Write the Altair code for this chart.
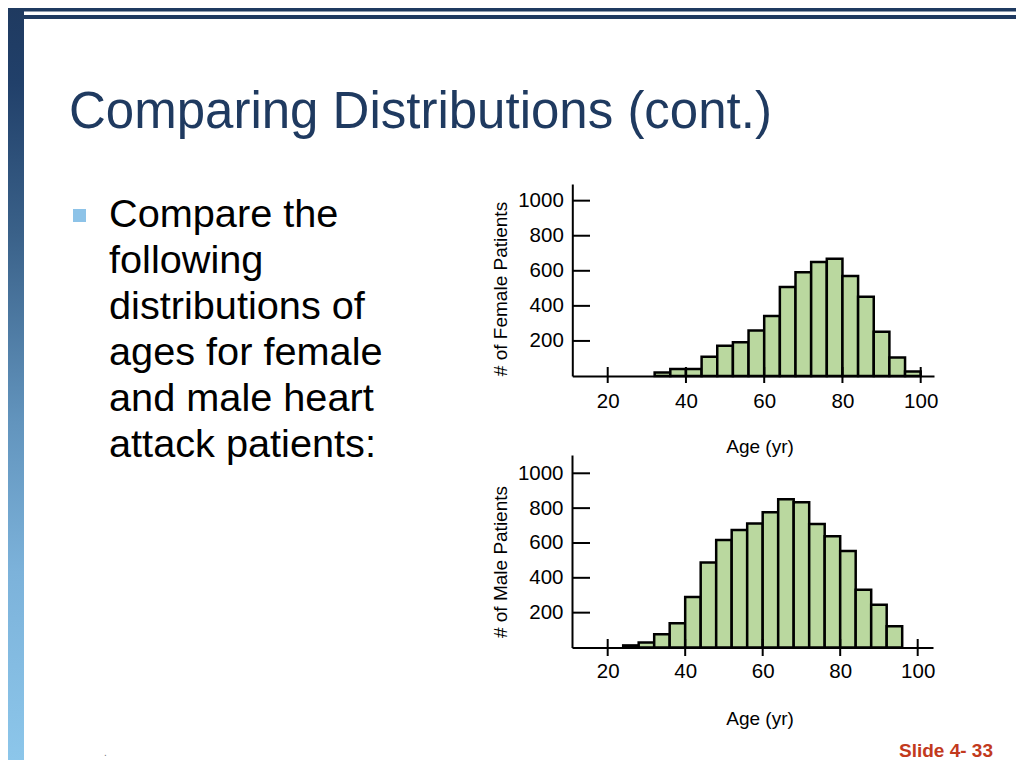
import altair as alt
import pandas as pd

# ---------------- data ----------------
title_text = "Comparing Distributions (cont.)"
bullet_lines = ["Compare the", "following", "distributions of",
                "ages for female", "and male heart", "attack patients:"]
slide_label = "Slide 4- 33"

bin_width = 4
female_bin_start = [32, 36, 40, 44, 48, 52, 56, 60, 64, 68, 72, 76, 80, 84, 88, 92, 96]
female_counts = [20, 40, 40, 110, 173, 192, 260, 342, 507, 591, 650, 669, 570, 452, 253, 105, 25]
male_bin_start = [24, 28, 32, 36, 40, 44, 48, 52, 56, 60, 64, 68, 72, 76, 80, 84, 88, 92]
male_counts = [12, 29, 76, 139, 290, 488, 617, 674, 712, 777, 851, 834, 709, 638, 554, 331, 246, 122]

x_tick_values = [20, 40, 60, 80, 100]
y_tick_values = [200, 400, 600, 800, 1000]
female_y_title = "# of Female Patients"
male_y_title = "# of Male Patients"
x_title = "Age (yr)"

# ---------------- styling ----------------
SANS = "Liberation Sans, Arial, Helvetica, sans-serif"
NARROW = "Liberation Sans Narrow, Arial Narrow, Liberation Sans, Arial, sans-serif"
NAVY = "#1f3a60"
GREEN = "#bad89f"
W, H = 1008, 752
LABEL_SIZE = 20.5
TITLE_SIZE = 19


def one_row():
    return pd.DataFrame({"k": [0]})


# ---------------- slide decorations ----------------
side_bar = alt.Chart(one_row()).mark_rect(
    fill=alt.Gradient(
        gradient="linear", x1=0, x2=0, y1=0, y2=1,
        stops=[
            alt.GradientStop(offset=0, color="#1f3a60"),
            alt.GradientStop(offset=0.10, color="#21406a"),
            alt.GradientStop(offset=0.30, color="#3a6189"),
            alt.GradientStop(offset=0.55, color="#6294bd"),
            alt.GradientStop(offset=0.75, color="#7cb2da"),
            alt.GradientStop(offset=1, color="#8cc6ea"),
        ],
    )
).encode(x=alt.value(0), x2=alt.value(16), y=alt.value(0), y2=alt.value(H))

top_line1 = alt.Chart(one_row()).mark_rule(color=NAVY, strokeWidth=4).encode(
    x=alt.value(16), x2=alt.value(W), y=alt.value(1.5))
top_line2 = alt.Chart(one_row()).mark_rule(color=NAVY, strokeWidth=4).encode(
    x=alt.value(16), x2=alt.value(W), y=alt.value(9))

title = alt.Chart(one_row()).mark_text(
    font=SANS, fontSize=51, color=NAVY, align="left", baseline="alphabetic"
).encode(x=alt.value(61), y=alt.value(120), text=alt.value(title_text))

bullet_sq = alt.Chart(one_row()).mark_rect(fill="#8dc3e8").encode(
    x=alt.value(65), x2=alt.value(78), y=alt.value(201), y2=alt.value(214))

bullet_text = alt.Chart(one_row()).mark_text(
    font=SANS, fontSize=39.7, color="black", align="left", baseline="alphabetic",
    lineHeight=46
).encode(x=alt.value(101), y=alt.value(219), text=alt.value(bullet_lines))

slide_no = alt.Chart(one_row()).mark_text(
    font=SANS, fontSize=19, fontWeight="bold", color="#c23a1d",
    align="right", baseline="alphabetic"
).encode(x=alt.value(985), y=alt.value(749), text=alt.value(slide_label))

dot = alt.Chart(one_row()).mark_text(
    font=SANS, fontSize=10, color="#777777", align="left", baseline="alphabetic"
).encode(x=alt.value(96), y=alt.value(748), text=alt.value("."))


# ---------------- histograms ----------------
def histogram(starts, counts, xdom, xrange, ydom, yrange, x_off, y_off,
              xtick_y, ytick_x, label_pad_x, ytitle, ytitle_y, xtitle_y):
    df = pd.DataFrame({
        "start": starts,
        "end": [s + bin_width for s in starts],
        "count": counts,
        "base": [0] * len(starts),
    })
    xs = alt.Scale(domain=xdom, range=xrange, nice=False, zero=False)
    ys = alt.Scale(domain=ydom, range=yrange, nice=False, zero=False)
    x_axis = alt.Axis(orient="bottom", offset=x_off, values=x_tick_values,
                      format="d", ticks=False, tickSize=0, grid=False,
                      domainColor="black", domainWidth=2,
                      labelFont=NARROW, labelFontSize=LABEL_SIZE, labelColor="black",
                      labelPadding=label_pad_x, labelAngle=0, labelFlush=False,
                      labelOverlap=False, title=None)
    y_axis = alt.Axis(orient="left", offset=y_off, values=y_tick_values,
                      format="d", ticks=False, tickSize=0, grid=False,
                      domainColor="black", domainWidth=2,
                      labelFont=NARROW, labelFontSize=LABEL_SIZE, labelColor="black",
                      labelPadding=9, labelFlush=False, labelOverlap=False,
                      title=None)
    bars = alt.Chart(df).mark_rect(fill=GREEN, stroke="black", strokeWidth=2.5).encode(
        x=alt.X("start:Q", scale=xs, axis=x_axis),
        x2="end:Q",
        y=alt.Y("count:Q", scale=ys, axis=y_axis),
        y2="base:Q",
    )
    xticks = alt.Chart(pd.DataFrame({"v": x_tick_values})).mark_rule(
        color="black", strokeWidth=2).encode(
        x=alt.X("v:Q", scale=xs, axis=x_axis),
        y=alt.value(xtick_y[0]), y2=alt.value(xtick_y[1]))
    yticks = alt.Chart(pd.DataFrame({"v": y_tick_values})).mark_rule(
        color="black", strokeWidth=2).encode(
        y=alt.Y("v:Q", scale=ys, axis=y_axis),
        x=alt.value(ytick_x[0]), x2=alt.value(ytick_x[1]))
    ytitle_mark = alt.Chart(one_row()).mark_text(
        font=NARROW, fontSize=TITLE_SIZE, color="black", angle=270,
        align="center", baseline="alphabetic"
    ).encode(x=alt.value(499), y=alt.value(ytitle_y), text=alt.value(ytitle))
    xtitle_mark = alt.Chart(one_row()).mark_text(
        font=NARROW, fontSize=TITLE_SIZE, color="black",
        align="center", baseline="alphabetic"
    ).encode(x=alt.value(752), y=alt.value(xtitle_y), text=alt.value(x_title))
    return alt.layer(bars, xticks, yticks, ytitle_mark, xtitle_mark)


female = histogram(
    female_bin_start, female_counts,
    xdom=[10.95, 103.4], xrange=[564.3, 926],
    ydom=[0, 1095], yrange=[368, 176],
    x_off=368 - H, y_off=-564.3,
    xtick_y=(359, 375), ytick_x=(564.3, 582), label_pad_x=15,
    ytitle=female_y_title, ytitle_y=281, xtitle_y=445,
)

male = histogram(
    male_bin_start, male_counts,
    xdom=[10.79, 103.95], xrange=[564, 925],
    ydom=[0, 1105], yrange=[639.5, 447],
    x_off=639.5 - H, y_off=-564,
    xtick_y=(631, 648), ytick_x=(564, 582), label_pad_x=14,
    ytitle=male_y_title, ytitle_y=554, xtitle_y=717,
)

chart = alt.layer(
    side_bar, top_line1, top_line2, title, bullet_sq, bullet_text, slide_no, dot,
    female, male,
).resolve_scale(
    x="independent", y="independent"
).resolve_axis(
    x="independent", y="independent"
).properties(
    width=W, height=H, padding=0, background="white",
    autosize=alt.AutoSizeParams(type="none"),
).configure_view(strokeWidth=0)

chart.save("out.html", embed_options={"renderer": "svg", "actions": False})
